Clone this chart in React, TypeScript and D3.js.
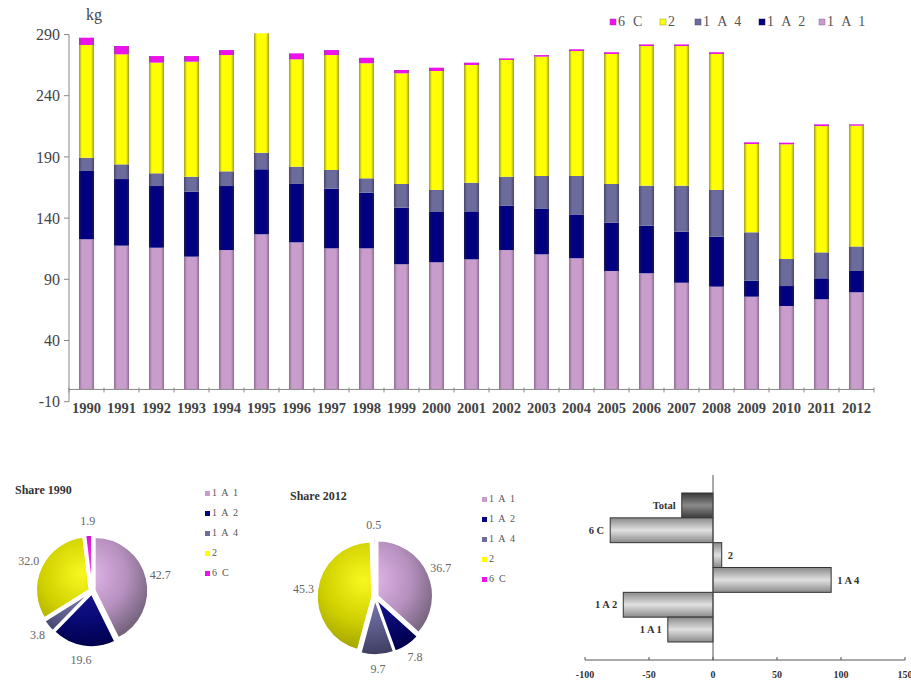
import React from "react";
import * as d3 from "d3";

const YEARS = ["1990","1991","1992","1993","1994","1995","1996","1997","1998","1999","2000","2001","2002","2003","2004","2005","2006","2007","2008","2009","2010","2011","2012"];
const S_1A1 = [122.7,117.5,115.8,108.5,113.9,126.8,120.2,115.3,115.3,102.3,103.9,106.3,113.9,110.4,107.2,96.8,94.9,87.2,84.0,75.8,68.2,73.7,79.4];
const S_1A2 = [55.8,54.4,50.4,53.1,52.3,53.1,47.7,48.7,45.5,46.2,41.1,39.2,36.1,37.1,35.8,39.4,38.9,41.7,40.8,13.1,16.3,17.1,17.4];
const S_1A4 = [10.8,12.0,10.4,12.2,12.0,13.5,14.1,15.3,11.7,19.4,18.0,23.4,23.8,26.9,31.4,31.7,32.7,37.6,38.2,39.5,22.1,21.2,20.0];
const S_2 = [92.1,89.9,90.4,94.0,95.0,97.6,87.7,93.9,94.0,90.4,97.2,96.2,95.4,97.5,102.1,106.2,114.1,114.1,111.1,72.1,93.7,103.2,98.7];
const S_6C = [6.0,6.8,5.4,4.6,4.1,0.0,4.9,4.1,4.5,2.7,2.7,1.9,1.3,1.3,1.4,1.4,1.3,1.3,1.4,1.4,1.3,1.4,1.1];
const Y_TICKS = [-10, 40, 90, 140, 190, 240, 290];

const KEYS = ["1A1", "1A2", "1A4", "2", "6C"];
const KEY_LABELS = ["1 A 1", "1 A 2", "1 A 4", "2", "6 C"];
const LEGEND_ORDER = ["6C", "2", "1A4", "1A2", "1A1"];

const SHARE_1990 = [42.7, 19.6, 3.8, 32.0, 1.9];
const SHARE_2012 = [36.7, 7.8, 9.7, 45.3, 0.5];

const CHANGE_CATS = ["Total", "6 C", "2", "1 A 4", "1 A 2", "1 A 1"];
const CHANGE_VALS = [-24.4, -80.3, 6.8, 92.3, -70.1, -35.3];
const CHANGE_TICKS = [-100, -50, 0, 50, 100, 150];

const COLORS: Record<string, string> = { "1A1": "#C89CCB", "1A2": "#000080", "1A4": "#6B6B9C", "2": "#FFFF00", "6C": "#EE11EE" };
const EDGES: Record<string, string> = { "1A1": "#8c6c92", "1A2": "#1a1a50", "1A4": "#47476a", "2": "#9c9a30", "6C": "#a040a0" };
const PIE_LIGHT: Record<string, string> = { "1A1": "#e4b8ec", "1A2": "#1c1c9c", "1A4": "#8c8cbc", "2": "#f8f820", "6C": "#ff40ff" };
const PIE_BASE: Record<string, string> = { "1A1": "#b690be", "1A2": "#0a0a78", "1A4": "#606090", "2": "#d0d000", "6C": "#d010d0" };
const PIE_DARK: Record<string, string> = { "1A1": "#76647e", "1A2": "#000050", "1A4": "#404064", "2": "#a4a400", "6C": "#a000a0" };

const SERIF = "'Liberation Serif', 'Times New Roman', serif";

function MainChart() {
  const rows = YEARS.map((y, i) => ({ year: y, "1A1": S_1A1[i], "1A2": S_1A2[i], "1A4": S_1A4[i], "2": S_2[i], "6C": S_6C[i] }));
  const stack = d3.stack<any>().keys(KEYS)(rows);
  const x = d3.scaleBand().domain(YEARS).range([69, 874]).paddingInner(0.57).paddingOuter(0.285);
  const y = d3.scaleLinear().domain([-10, 290]).range([401.7, 34.5]);
  const step = x.step();
  const x0 = 69;
  return (
    <g>
      <defs>
        {KEYS.map(k => (
          <linearGradient key={k} id={"bar-" + k} x1="0" x2="1" y1="0" y2="0">
            <stop offset="0" stopColor={EDGES[k]} />
            <stop offset="0.2" stopColor={COLORS[k]} />
            <stop offset="0.8" stopColor={COLORS[k]} />
            <stop offset="1" stopColor={EDGES[k]} />
          </linearGradient>
        ))}
      </defs>
      {stack.map(layer => (
        <g key={layer.key}>
          {layer.map((d, i) => {
            const h = y(d[0]) - y(d[1]);
            if (h <= 0) return null;
            return <rect key={i} x={x(YEARS[i])} y={y(d[1])} width={x.bandwidth()} height={h} fill={`url(#bar-${layer.key})`} />;
          })}
        </g>
      ))}
      <line x1={x0} x2={x0} y1={y(290)} y2={y(-10)} stroke="#888" strokeWidth={1} />
      {Y_TICKS.map(t => (
        <g key={t}>
          <line x1={x0 - 5} x2={x0} y1={y(t)} y2={y(t)} stroke="#888" />
          <text x={x0 - 9} y={y(t)} dy="0.35em" textAnchor="end" fontSize={16} fill="#444" fontFamily={SERIF}>{t}</text>
        </g>
      ))}
      <line x1={x0} x2={x0 + step * YEARS.length} y1={y(0)} y2={y(0)} stroke="#888" />
      {d3.range(YEARS.length + 1).map(i => (
        <line key={i} x1={x0 + step * i} x2={x0 + step * i} y1={y(0) - 2} y2={y(0) + 3} stroke="#888" />
      ))}
      {YEARS.map(yr => (
        <text key={yr} x={(x(yr) as number) + x.bandwidth() / 2} y={413} textAnchor="middle" fontSize={14.5} fontWeight="bold" fill="#444" fontFamily={SERIF}>{yr}</text>
      ))}
      <text x={86} y={20} fontSize={16} fill="#444" fontFamily={SERIF}>kg</text>
      {LEGEND_ORDER.map((k, i) => {
        const lx = [610, 660, 695, 759, 819][i];
        return (
          <g key={k}>
            <rect x={lx} y={19} width={6} height={6} fill={COLORS[k]} stroke={EDGES[k]} strokeWidth={0.5} />
            <text x={lx + 8} y={26} fontSize={14} letterSpacing={2.2} fill="#555" fontFamily={SERIF}>{KEY_LABELS[KEYS.indexOf(k)]}</text>
          </g>
        );
      })}
    </g>
  );
}

function Pie({ id, title, shares, cx, cy, r, titleX, legendX }: any) {
  const pie = d3.pie<number>().sort(null).value(d => d)(shares);
  const arc = d3.arc<any>().innerRadius(0).outerRadius(r);
  const explode = 3;
  const labelR = r + 17;
  return (
    <g>
      <defs>
        {KEYS.map(k => (
          <radialGradient key={k} id={`${id}-${k}`} gradientUnits="userSpaceOnUse" cx={-r * 0.15} cy={-r * 0.3} r={r * 1.5}>
            <stop offset="0" stopColor={PIE_LIGHT[k]} />
            <stop offset="0.5" stopColor={PIE_BASE[k]} />
            <stop offset="0.85" stopColor={PIE_DARK[k]} />
          </radialGradient>
        ))}
      </defs>
      <text x={titleX} y={cy - 97} fontSize={12} fontWeight="bold" fill="#333" fontFamily={SERIF}>{title}</text>
      {pie.map((p, i) => {
        const mid = (p.startAngle + p.endAngle) / 2;
        const dx = Math.sin(mid) * explode, dy = -Math.cos(mid) * explode;
        const lx = cx + Math.sin(mid) * labelR, ly = cy - Math.cos(mid) * labelR;
        return (
          <g key={i}>
            <path d={arc(p) as string} transform={`translate(${cx + dx},${cy + dy})`} fill={`url(#${id}-${KEYS[i]})`} stroke="#fff" strokeWidth={1.5} />
            <text x={lx} y={ly} dy="0.35em" textAnchor="middle" fontSize={12} fill="#666" fontFamily={SERIF}>{shares[i].toFixed(1)}</text>
          </g>
        );
      })}
      {KEYS.map((k, i) => (
        <g key={k}>
          <rect x={legendX} y={cy - 100 + i * 20} width={5} height={5} fill={COLORS[k]} />
          <text x={legendX + 7} y={cy - 95 + i * 20} fontSize={10} letterSpacing={1.2} fill="#555" fontFamily={SERIF}>{KEY_LABELS[i]}</text>
        </g>
      ))}
    </g>
  );
}

function ChangeChart() {
  const x = d3.scaleLinear().domain([-100, 150]).range([585, 905]);
  const y = d3.scaleBand().domain(CHANGE_CATS).range([493, 642]).padding(0);
  const axisY = 660;
  return (
    <g>
      <defs>
        <linearGradient id="chg" x1="0" x2="0" y1="0" y2="1">
          <stop offset="0" stopColor="#8a8a8a" />
          <stop offset="0.5" stopColor="#e0e0e0" />
          <stop offset="1" stopColor="#8a8a8a" />
        </linearGradient>
        <linearGradient id="chgT" x1="0" x2="0" y1="0" y2="1">
          <stop offset="0" stopColor="#3a3a3a" />
          <stop offset="0.5" stopColor="#8a8a8a" />
          <stop offset="1" stopColor="#3a3a3a" />
        </linearGradient>
      </defs>
      {CHANGE_CATS.map((c, i) => {
        const v = CHANGE_VALS[i];
        const x1 = x(Math.min(0, v)), x2 = x(Math.max(0, v));
        const yy = y(c) as number;
        return (
          <g key={c}>
            <rect x={x1} y={yy} width={x2 - x1} height={y.bandwidth()} fill={i === 0 ? "url(#chgT)" : "url(#chg)"} stroke="#333" strokeWidth={1} />
            <text x={v < 0 ? x1 - 6 : x2 + 6} y={yy + y.bandwidth() / 2} dy="0.35em" textAnchor={v < 0 ? "end" : "start"} fontSize={10.5} fontWeight="bold" fill="#333" fontFamily={SERIF}>{c}</text>
          </g>
        );
      })}
      <line x1={x(0)} x2={x(0)} y1={475} y2={axisY} stroke="#555" />
      <line x1={x(-100)} x2={x(150)} y1={axisY} y2={axisY} stroke="#555" />
      {CHANGE_TICKS.map(t => (
        <g key={t}>
          <line x1={x(t)} x2={x(t)} y1={axisY - 3} y2={axisY} stroke="#555" />
          <text x={x(t)} y={axisY + 18} textAnchor="middle" fontSize={10} fontWeight="bold" fill="#333" fontFamily={SERIF}>{t}</text>
        </g>
      ))}
    </g>
  );
}

export default function App() {
  return (
    <div style={{ position: "absolute", left: 0, top: 0 }}>
      <svg width={911} height={686} style={{ display: "block", background: "#fff" }}>
        <MainChart />
        <Pie id="p90" title="Share 1990" shares={SHARE_1990} cx={92} cy={591} r={53} titleX={15} legendX={205} />
        <Pie id="p12" title="Share 2012" shares={SHARE_2012} cx={375} cy={597} r={55} titleX={290} legendX={482} />
        <ChangeChart />
      </svg>
    </div>
  );
}
